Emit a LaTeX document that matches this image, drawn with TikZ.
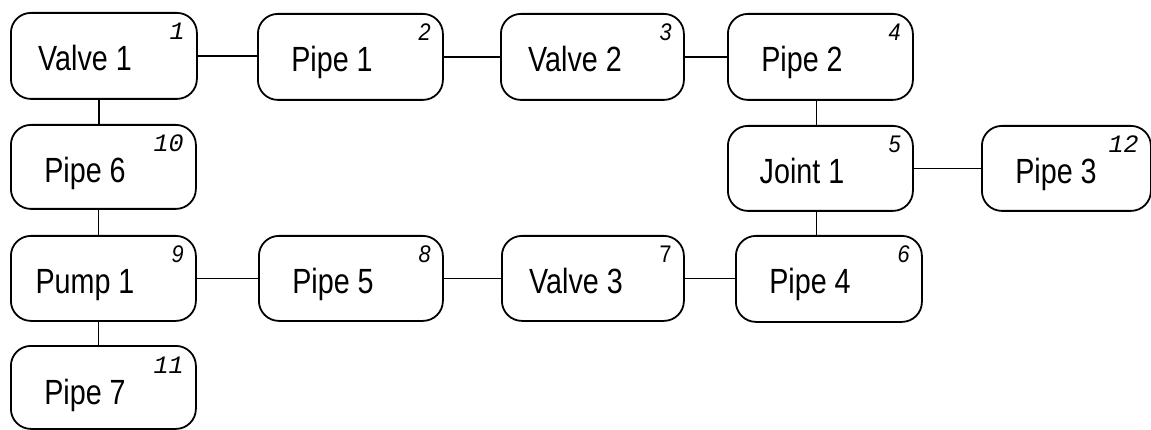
\documentclass[tikz,border=0pt]{standalone}
\usepackage{fontspec}
\setmainfont{Liberation Sans}[FakeStretch=0.82]
\newfontfamily\tagsans{Liberation Sans}[FakeStretch=0.9]
\newfontfamily\tagmono{Liberation Mono}
\begin{document}
\begin{tikzpicture}[x=1pt,y=-1pt,
  unit/.style={draw=black, line width=1.8pt, rounded corners=20pt,
    rectangle, inner sep=0pt, anchor=north west},
  unitlabel/.style={anchor=base, inner sep=0pt,
    font=\fontsize{35}{40}\selectfont},
  tagm/.style={anchor=base east, inner sep=0pt,
    font=\tagmono\itshape\fontsize{25}{27}\selectfont},
  tags/.style={anchor=base east, inner sep=0pt,
    font=\tagsans\itshape\fontsize{24}{26}\selectfont},
  tagu/.style={anchor=base east, inner sep=0pt,
    font=\tagsans\fontsize{24}{26}\selectfont},
  link/.style={draw=black, line width=1.5pt}]
\useasboundingbox (0,0) rectangle (1151,430);

% units: \unitbox{id}{left}{top}{right}{bottom}{label}{tag}{tag style}
\newcommand\unitbox[8]{%
  \node[unit, minimum width={#4-#2}, minimum height={#5-#3}] (#1) at (#2,#3) {};
  \node[unitlabel] (#1-label) at ([xshift=75pt,yshift=-59pt]#1.north west) {#6};
  \node[#8] (#1-tag) at ([xshift=-13pt,yshift=-28pt]#1.north east) {#7};
}

\unitbox{v1}{10}{12}{196}{98}{Valve 1}{1}{tagm}
\unitbox{p1}{257}{13}{442}{99}{Pipe 1}{2}{tags}
\unitbox{v2}{500}{13}{683}{99}{Valve 2}{3}{tags}
\unitbox{p2}{727}{13}{912}{99}{Pipe 2}{4}{tags}
\unitbox{j1}{727}{125}{912}{210}{Joint 1}{5}{tags}
\unitbox{p3}{981}{125}{1150}{210}{Pipe 3}{12}{tagm}
\unitbox{p4}{735}{235}{921}{321}{Pipe 4}{6}{tags}
\unitbox{v3}{501}{235}{683}{320}{Valve 3}{7}{tagu}
\unitbox{p5}{258}{235}{442}{320}{Pipe 5}{8}{tags}
\unitbox{pu}{10}{235}{195}{320}{Pump 1}{9}{tags}
\unitbox{p6}{10}{124}{195}{208}{Pipe 6}{10}{tagm}
\unitbox{p7}{10}{345}{195}{428}{Pipe 7}{11}{tagm}

% horizontal runs
\draw[link] (v1.east) -- (v1.east -| p1.west);
\draw[link] (p1.east) -- (p1.east -| v2.west);
\draw[link] (v2.east) -- (v2.east -| p2.west);
\draw[link] (j1.east) -- (j1.east -| p3.west);
\draw[link] (pu.east) -- (pu.east -| p5.west);
\draw[link] (p5.east) -- (p5.east -| v3.west);
\draw[link] (v3.east) -- (v3.east -| p4.west);

% vertical runs
\draw[link] ([xshift=-5pt]v1.south) -- ([xshift=-5pt]v1.south |- p6.north);
\draw[link] ([xshift=-5pt]p6.south) -- ([xshift=-5pt]p6.south |- pu.north);
\draw[link] ([xshift=-5pt]pu.south) -- ([xshift=-5pt]pu.south |- p7.north);
\draw[link] ([xshift=-4pt]p2.south) -- ([xshift=-4pt]p2.south |- j1.north);
\draw[link] ([xshift=-4pt]j1.south) -- ([xshift=-4pt]j1.south |- p4.north);
\end{tikzpicture}
\end{document}
